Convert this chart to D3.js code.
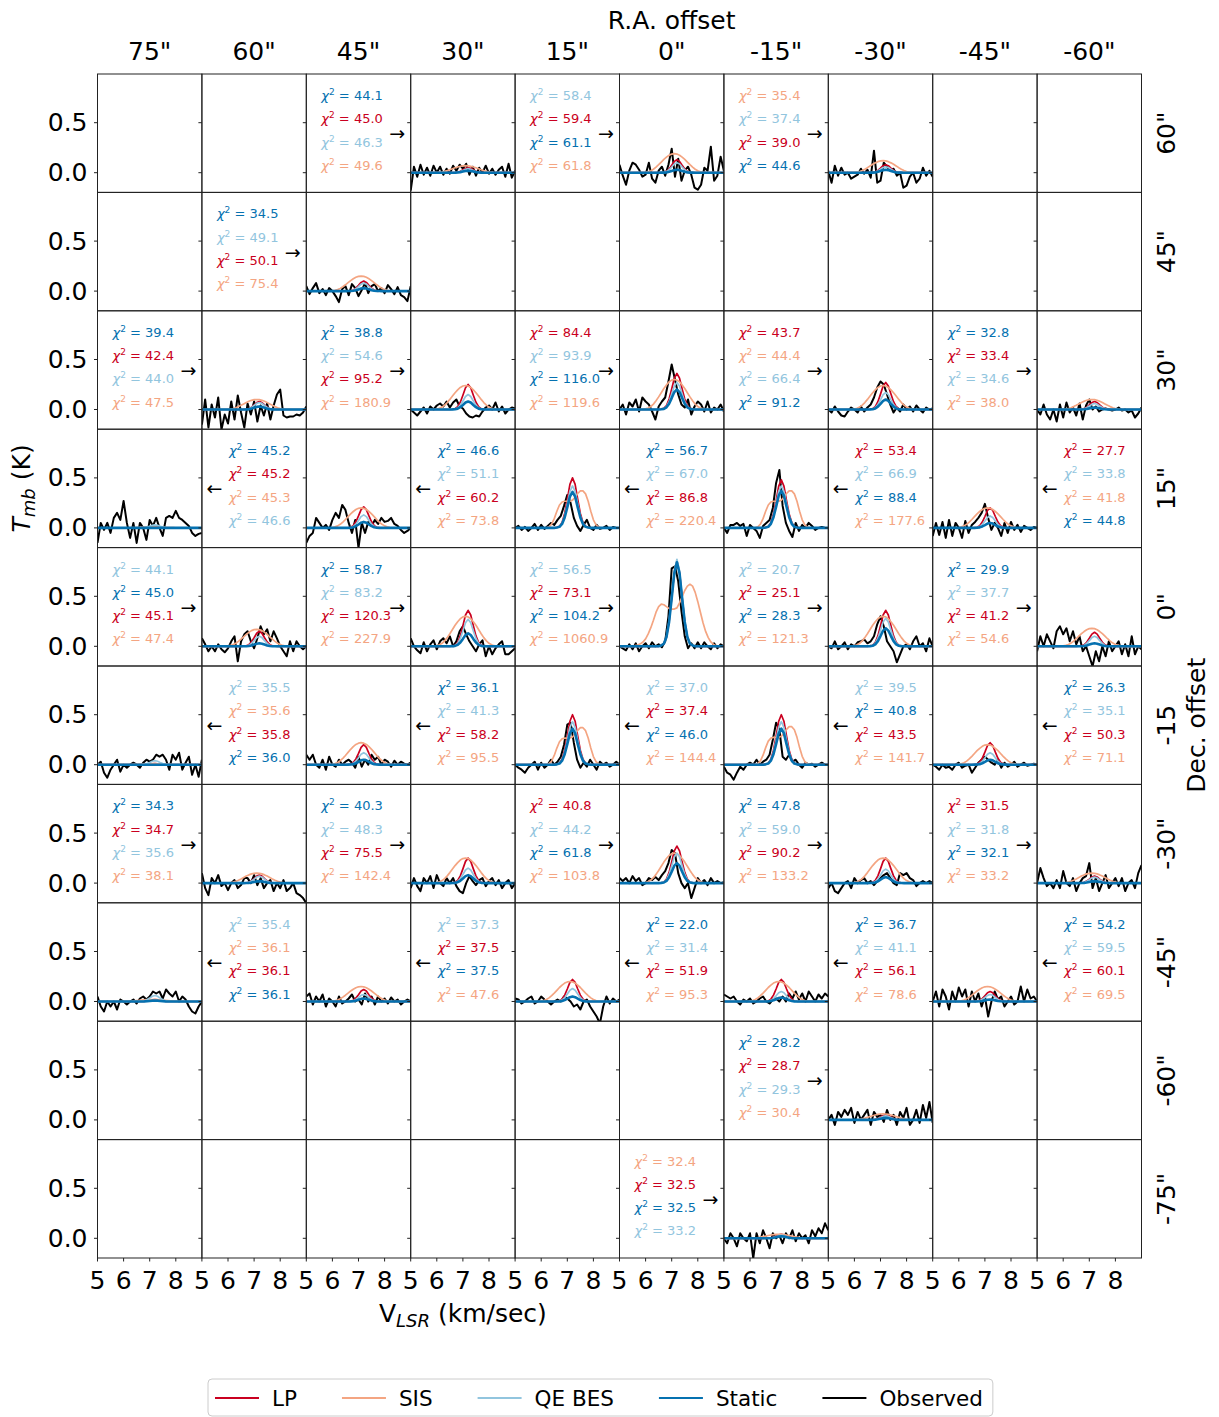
<!DOCTYPE html>
<html>
<head>
<meta charset="utf-8">
<script src="https://cdn.jsdelivr.net/npm/d3@7"></script>
<style>
body { margin: 0; background: #fff; }
svg { font-family: "DejaVu Sans", sans-serif; }
</style>
</head>
<body>
<svg id="chart" width="1219" height="1417"></svg>
<script>
// ---- data ----
var raLabels = ['75"', '60"', '45"', '30"', '15"', '0"', '-15"', '-30"', '-45"', '-60"'];
var decLabels = ['60"', '45"', '30"', '15"', '0"', '-15', '-30"', '-45"', '-60"', '-75"'];
var yTicks = [0.0, 0.5];
var xTicks = [5, 6, 7, 8];

var modelNames = ["LP", "SIS", "QE BES", "Static"];
var modelColors = {LP: "#ca0020", SIS: "#f4a582", "QE BES": "#92c5de", Static: "#0571b0"};

// channel velocities of the observed spectra (km/s)
var obsVel = [5.000, 5.125, 5.250, 5.375, 5.500, 5.625, 5.750, 5.875, 6.000, 6.125, 6.250,
    6.375, 6.500, 6.625, 6.750, 6.875, 7.000, 7.125, 7.250, 7.375, 7.500, 7.625, 7.750,
    7.875, 8.000, 8.125, 8.250, 8.375, 8.500, 8.625, 8.750, 8.875, 9.000];

// velocity grid of the model profiles (km/s)
var modelVel = [5.0, 5.1, 5.2, 5.3, 5.4, 5.5, 5.6, 5.7, 5.8, 5.9, 6.0, 6.1, 6.2, 6.3, 6.4, 6.5,
    6.6, 6.7, 6.8, 6.9, 7.0, 7.1, 7.2, 7.3, 7.4, 7.5, 7.6, 7.7, 7.8, 7.9, 8.0, 8.1, 8.2, 8.3,
    8.4, 8.5, 8.6, 8.7, 8.8, 8.9, 9.0];

// normalised profile shapes
var narrowProfile = [0, 0, 0, 0, 0, 0, 0, 0, 0, 0, 0, 0, 0, 0, 0, 0,
    0.01, 0.03, 0.11, 0.29, 0.57, 0.87, 1.0, 0.87, 0.57, 0.29, 0.11, 0.03, 0.01,
    0, 0, 0, 0, 0, 0, 0, 0, 0, 0, 0, 0];
var sisCenterProfile = [0, 0, 0, 0, 0, 0,
    0.01, 0.02, 0.04, 0.07, 0.12, 0.2, 0.3, 0.42, 0.55, 0.64, 0.68, 0.67, 0.64, 0.61, 0.6, 0.6,
    0.62, 0.7, 0.8, 0.9, 0.97, 1.0, 0.97, 0.87, 0.72, 0.55, 0.38, 0.24, 0.14, 0.07, 0.03, 0.01,
    0, 0, 0];
var sisInnerProfile = [0, 0, 0, 0, 0, 0, 0, 0, 0, 0, 0, 0, 0,
    0.03, 0.1, 0.25, 0.45, 0.62, 0.7, 0.72, 0.72, 0.72, 0.75, 0.83, 0.93, 1.0, 1.0, 0.92, 0.72,
    0.45, 0.22, 0.08, 0.02,
    0, 0, 0, 0, 0, 0, 0, 0];
var sisOuterProfile = [0, 0, 0, 0, 0, 0, 0, 0, 0, 0,
    0.02, 0.05, 0.1, 0.18, 0.29, 0.42, 0.56, 0.7, 0.82, 0.92, 0.98, 1.0, 0.98, 0.92, 0.82, 0.7,
    0.56, 0.42, 0.29, 0.18, 0.1, 0.05, 0.02,
    0, 0, 0, 0, 0, 0, 0, 0];
var sisProfiles = {center: sisCenterProfile, inner: sisInnerProfile, outer: sisOuterProfile};

// panels holding spectra (grid row = Dec index, col = R.A. index)
var specRow = [0, 0, 0, 1, 2, 2, 2, 2, 2, 3, 3, 3, 3, 3, 4, 4, 4, 4, 4, 5, 5, 5, 5, 5, 6, 6, 6, 6, 6, 7, 7, 7, 7, 7, 8, 9];
var specCol = [3, 5, 7, 2, 1, 3, 5, 7, 9, 0, 2, 4, 6, 8, 1, 3, 5, 7, 9, 0, 2, 4, 6, 8, 1, 3, 5, 7, 9, 0, 2, 4, 6, 8, 7, 6];

// model peak temperatures (K)
var peakLP = [0.05, 0.13, 0.08, 0.10, 0.08, 0.25, 0.36, 0.27, 0.08, 0.01, 0.21, 0.50, 0.48, 0.20, 0.15, 0.36, 0.85, 0.36,
    0.14, 0.01, 0.20, 0.50, 0.50, 0.22, 0.08, 0.25, 0.37, 0.25, 0.07, 0.02, 0.12, 0.22, 0.22, 0.10, 0.05, 0.04];
var peakSIS = [0.07, 0.19, 0.12, 0.15, 0.10, 0.24, 0.30, 0.24, 0.10, 0.01, 0.20, 0.37, 0.37, 0.20, 0.17, 0.30, 0.62, 0.30,
    0.18, 0.01, 0.22, 0.37, 0.38, 0.20, 0.10, 0.25, 0.30, 0.25, 0.10, 0.02, 0.15, 0.20, 0.20, 0.15, 0.06, 0.04];
var peakQE = [0.04, 0.10, 0.06, 0.08, 0.07, 0.15, 0.27, 0.17, 0.06, 0.03, 0.13, 0.42, 0.42, 0.12, 0.10, 0.27, 0.87, 0.28,
    0.10, 0.04, 0.12, 0.43, 0.43, 0.12, 0.07, 0.15, 0.30, 0.14, 0.06, 0.06, 0.07, 0.13, 0.10, 0.07, 0.04, 0.03];
var peakStatic = [0.02, 0.03, 0.03, 0.03, 0.03, 0.08, 0.20, 0.10, 0.02, 0.0, 0.06, 0.36, 0.37, 0.05, 0.03, 0.13, 0.84, 0.18,
    0.03, 0.0, 0.05, 0.36, 0.36, 0.05, 0.02, 0.08, 0.20, 0.06, 0.02, 0.01, 0.03, 0.05, 0.04, 0.02, 0.02, 0.02];
var sisShape = ["outer", "outer", "outer", "outer", "outer", "outer", "outer", "outer", "outer", "outer", "outer", "inner",
    "inner", "outer", "outer", "outer", "center", "outer", "outer", "outer", "outer", "inner", "inner", "outer", "outer",
    "outer", "outer", "outer", "outer", "outer", "outer", "outer", "outer", "outer", "outer", "outer"];

// observed spectra (K), one list per panel, same order as specRow/specCol
var observed = [
    [-0.18,0.06,-0.04,0.08,-0.02,0.05,-0.03,0.07,0,0.06,-0.02,0.04,-0.01,0.07,0.02,0.08,0.04,0.09,-0.02,0.06,-0.03,0.05,0,0.07,-0.01,0.04,-0.02,0.03,0.06,-0.04,0.09,-0.05,0.02],
    [0.08,-0.03,-0.12,0.02,0.10,0.08,0.03,-0.04,-0.02,0.10,-0.06,-0.10,0.02,0.06,-0.03,0.08,0.24,-0.04,0.14,-0.08,0.02,0.06,-0.02,-0.15,-0.17,-0.12,0.05,0.02,0.26,-0.08,-0.03,0.16,0.02],
    [0.02,-0.10,0.07,-0.03,0.05,-0.02,0,-0.06,-0.04,-0.02,0.04,-0.01,0.03,-0.05,0.22,-0.10,-0.08,0.10,0.06,0.02,0.04,-0.03,0,-0.15,-0.13,-0.04,0,-0.10,-0.06,0.05,-0.03,0.02,-0.04],
    [0.05,-0.03,0.03,0.08,-0.02,0.02,-0.04,0.03,0,-0.05,-0.11,0.02,0.05,-0.04,0.07,0.03,-0.05,0.01,0.08,-0.02,0.05,0.07,0,0.03,-0.02,0.06,0.02,-0.03,0.04,-0.04,-0.06,-0.10,0.05],
    [-0.15,0.10,-0.18,0.05,-0.08,0.12,-0.20,-0.05,-0.14,0.08,-0.10,0.14,-0.03,-0.18,0.06,-0.05,0.08,-0.12,0.04,-0.06,0.06,-0.10,0.04,0.15,0.20,-0.06,-0.08,-0.07,-0.07,-0.05,-0.06,-0.03,0.03],
    [0,-0.03,-0.06,-0.02,0.02,-0.04,0.03,0,0.04,0.06,0.03,0.08,0.02,0.07,0.10,0.03,0.01,-0.04,-0.07,-0.08,-0.06,-0.07,-0.02,0.02,0.04,0,0.07,-0.02,0.03,-0.04,0,0.02,0.01],
    [0,0.05,-0.05,0.07,0.03,0.10,-0.02,0.12,0.08,0.05,-0.02,-0.10,0.03,0.08,0.12,0.28,0.45,0.30,0.15,0.05,0.02,0.10,-0.05,0.03,0.08,0.05,-0.02,0.08,-0.03,0.02,0,0.05,-0.02],
    [0,-0.03,0.03,-0.02,-0.06,-0.07,-0.02,0.02,0,-0.03,0.03,-0.02,0.02,0.05,0.12,0.22,0.28,0.25,0.15,0.05,-0.03,0.02,-0.02,0.05,0,0.03,-0.02,0.04,0,-0.03,0.02,0,0.01],
    [0,-0.05,0.05,-0.05,-0.10,0,-0.12,0.05,-0.08,0.07,-0.03,0.02,-0.06,0.06,-0.10,0.04,0.10,0,0.03,-0.02,0,0.01,0,-0.01,0,0.02,-0.01,0,-0.03,-0.01,-0.08,-0.04,0.02],
    [-0.15,0.05,-0.02,0.05,-0.05,0.10,0.15,0.08,0.27,0.05,-0.10,0.05,-0.15,0.05,0,-0.12,0.08,0.02,0.10,0,-0.08,0.10,0.12,0.10,0.17,0.10,0.08,0.05,0.02,-0.05,-0.08,-0.06,-0.05],
    [-0.15,-0.08,-0.05,0.10,0.05,0,0.03,-0.02,0.08,0.15,0.10,0.23,0.18,0.05,-0.05,0.08,-0.20,0.05,-0.05,0.06,0.02,0.08,0.04,0.10,0.06,0.07,0.10,0.04,0.02,-0.02,-0.05,-0.03,0],
    [0,0.02,-0.02,0.01,-0.03,0,0.04,-0.02,0.03,-0.01,0.02,0.05,0.03,0.08,0.12,0.22,0.33,0.25,0.10,0.02,-0.03,0.03,0.08,0,-0.02,0.03,-0.01,0,0.02,-0.02,0.01,0,0],
    [0,-0.05,0.03,0.03,0.05,0.02,0.04,-0.08,0.03,0,-0.03,-0.10,0.02,0.05,0.08,0.20,0.45,0.58,0.22,0.05,-0.03,-0.09,0.05,-0.03,0.03,0,0.05,0.02,-0.02,0,0.01,0,0],
    [-0.08,0.05,-0.07,0.06,-0.10,0.08,-0.08,0.05,0,-0.10,0.07,-0.05,0.03,0.06,0.10,0.15,0.24,0.10,-0.02,0.05,0,-0.08,0.05,-0.05,0.06,-0.02,0.03,-0.04,0.02,0,-0.02,0.01,0],
    [0.08,0.02,-0.05,0,-0.05,0.02,-0.03,-0.06,-0.02,0.05,0.10,-0.15,0.05,0.12,0.15,0.05,-0.02,0.08,0.20,0.12,0.17,0.05,0.15,0.08,0,-0.05,-0.10,0.05,-0.05,0.05,0,-0.03,0],
    [0.08,0,-0.04,-0.07,0.04,-0.05,0.02,0.06,-0.03,0.05,0.08,0.03,0.10,0,0.05,0.15,0.20,0.12,0.05,0,-0.05,0.02,0.06,-0.10,0,-0.08,-0.02,0.02,0.05,-0.08,-0.08,-0.05,-0.02],
    [0,-0.02,-0.04,0.02,-0.03,0.03,-0.05,0,0.03,-0.02,0.04,0,0.02,-0.01,0.05,0.30,0.78,0.80,0.65,0.35,0.10,-0.02,0.03,-0.02,0.04,-0.02,0.04,0,-0.03,0.03,-0.02,0.02,0],
    [0,-0.02,0.05,-0.03,0,0.04,-0.03,0.02,0,0.04,0.05,0.07,0.03,0.05,0.10,0.22,0.30,0.20,0.05,0,-0.05,-0.16,-0.08,0,0.02,-0.03,0.05,0.10,0,0.03,-0.05,0.08,0],
    [-0.05,0.10,0,0.12,0.05,-0.02,0.15,0.20,0.12,0.18,0.05,0.15,0.02,0.10,-0.05,0,-0.10,-0.20,-0.05,-0.15,0,-0.10,0.05,-0.05,0,0.05,-0.08,0.02,-0.10,0.10,-0.08,0,-0.03],
    [0,0.03,-0.08,-0.13,-0.05,0,0.05,-0.07,0,-0.03,0,0.02,0,-0.03,0.02,0.05,0.03,0.05,0.10,0.08,0.10,0.05,-0.05,0.10,0.05,0.12,-0.05,0.02,0.08,-0.10,0,-0.12,0.05],
    [0.10,0.05,0.10,0,-0.03,0.05,-0.05,0.08,0,-0.02,0.05,0,0.03,0.05,0.02,-0.03,0.08,-0.02,0.05,0,0.10,0.05,0.08,0,0.05,0.03,-0.02,0.04,0,0.03,0.01,0,0.02],
    [0,-0.03,-0.05,-0.08,-0.03,0,0.03,-0.05,0.02,-0.03,0,0.05,0,0.03,0.08,0.20,0.40,0.42,0.22,0.05,-0.03,0.02,-0.02,0.05,0,-0.05,0.03,0,0.02,-0.02,0,0.03,0],
    [-0.02,-0.08,-0.10,-0.15,-0.08,-0.02,-0.05,0,0.02,0,0.05,0,0.03,0.05,0.10,0.25,0.42,0.35,0.08,0.05,0.10,0.03,0.05,0,-0.03,0.02,0,0.01,-0.02,0,0.02,0,0],
    [0,-0.02,-0.05,0,-0.03,-0.02,-0.05,0,0.02,-0.03,-0.01,0,-0.08,-0.03,0.02,0.05,0.08,0.05,0.02,0,0.05,-0.03,0.02,-0.02,0,0.03,-0.02,0,0.02,-0.01,0,0.01,0],
    [0.10,-0.05,-0.12,0.05,0,0.08,-0.03,0,-0.07,0,0.03,-0.05,-0.02,0.05,0.05,0,0.08,-0.02,0.05,-0.05,0,0.03,-0.08,0,-0.05,0.03,-0.08,-0.05,0,-0.10,-0.12,-0.15,-0.20],
    [-0.05,0.05,-0.03,-0.08,0.05,0,0.07,-0.05,0.08,0,-0.03,0.05,0,0.05,-0.03,-0.08,-0.10,0,0.07,0.02,-0.02,0.03,0.05,-0.03,0.02,0.05,-0.02,0.03,-0.05,0,0.03,-0.05,0],
    [0.05,0.02,0.05,0,0.07,0.02,0.05,-0.02,0,0.05,0.03,0.06,0.03,0.08,0.12,0.20,0.33,0.30,0.10,0,-0.05,0,-0.15,-0.05,0.05,0,0.03,-0.02,0.05,0,0.02,0,0.01],
    [-0.05,0,-0.08,-0.10,-0.05,0,0.02,-0.05,0.05,0,0.03,0.05,0,0.02,-0.02,0.02,0.05,0.08,0.10,0.05,0,-0.02,0.10,0.08,0.10,0.05,0.03,-0.03,0,0.02,0,0.02,0],
    [0,0.15,0.05,-0.03,0,-0.05,0.03,-0.05,0.12,0,-0.03,0.05,-0.08,0,0.05,0.07,0.20,-0.05,0.05,-0.08,0,0.08,-0.05,0,0.05,-0.03,0.05,-0.08,0,0.03,-0.05,0.10,0.18],
    [0.05,-0.05,-0.10,0,-0.05,0,-0.08,0.02,0,-0.03,0,0.02,-0.02,0.03,0.05,0.02,0.05,0.10,0.08,0.10,0.03,0.12,0.08,0.05,0.10,0,0.05,0.02,-0.05,-0.10,-0.12,-0.05,0],
    [0.05,0.08,-0.03,0.05,0,0.07,-0.05,0.03,0,-0.05,0.05,-0.02,0,0.03,0.07,0,0.02,-0.03,0.08,0,0.05,-0.03,0.05,0,0.03,-0.02,0.04,0,0.02,-0.03,0,0.02,0],
    [0.03,0.02,-0.02,0,0.03,0.05,-0.02,0,0.05,0.02,0,-0.03,0,0.02,0,0.05,0.03,0,-0.05,-0.03,-0.08,0,0.02,-0.05,-0.10,-0.15,-0.22,-0.05,0.05,-0.02,0.03,0,0.02],
    [0.07,0.05,0.03,0.05,0,-0.03,0.02,0,0.03,-0.02,0,0.03,0.05,0,-0.02,0.02,0.03,0,0.05,0,0.08,0.03,0.10,0.02,0.08,0,0.10,0.05,0,0.07,0.03,0.08,0.05],
    [0,0.10,-0.05,0.12,0.05,-0.08,0.10,0,0.14,0.05,0.12,-0.05,0.10,0,0.08,-0.05,0.05,-0.15,0,0.10,0.02,0.05,-0.05,0,0.05,-0.03,0,0.15,0,0.12,0.03,0.05,0],
    [0,0.05,-0.05,0.08,0.03,0.10,0.05,0.12,-0.03,0.08,0,0.05,0.10,-0.05,0.08,0.03,0.05,-0.02,0.10,0,0.05,-0.05,0.08,0.02,0.12,-0.05,0,0.10,-0.03,0.15,0.02,0.18,-0.03],
    [0,-0.05,0.05,0,-0.08,0.05,0,-0.03,0.05,-0.20,0.05,-0.05,0.08,0,-0.10,0.05,0,0.03,-0.05,0.05,0,0.08,-0.03,0.05,0,0.03,-0.05,0.08,0.02,0.10,0.05,0.15,0.08]
];

// chi-square labels: panel, arrow direction, models (top to bottom) and values
var chiRow = [0, 0, 0, 1, 2, 2, 2, 2, 2, 3, 3, 3, 3, 3, 4, 4, 4, 4, 4, 5, 5, 5, 5, 5, 6, 6, 6, 6, 6, 7, 7, 7, 7, 7, 8, 9];
var chiCol = [2, 4, 6, 1, 0, 2, 4, 6, 8, 1, 3, 5, 7, 9, 0, 2, 4, 6, 8, 1, 3, 5, 7, 9, 0, 2, 4, 6, 8, 1, 3, 5, 7, 9, 6, 5];
var chiArrow = ["r", "r", "r", "r", "r", "r", "r", "r", "r", "l", "l", "l", "l", "l", "r", "r", "r", "r", "r",
    "l", "l", "l", "l", "l", "r", "r", "r", "r", "r", "l", "l", "l", "l", "l", "r", "r"];
var chiModels = [
    ["Static", "LP", "QE BES", "SIS"], ["QE BES", "LP", "Static", "SIS"], ["SIS", "QE BES", "LP", "Static"],
    ["Static", "QE BES", "LP", "SIS"],
    ["Static", "LP", "QE BES", "SIS"], ["Static", "QE BES", "LP", "SIS"], ["LP", "QE BES", "Static", "SIS"],
    ["LP", "SIS", "QE BES", "Static"], ["Static", "LP", "QE BES", "SIS"],
    ["Static", "LP", "SIS", "QE BES"], ["Static", "QE BES", "LP", "SIS"], ["Static", "QE BES", "LP", "SIS"],
    ["LP", "QE BES", "Static", "SIS"], ["LP", "QE BES", "SIS", "Static"],
    ["QE BES", "Static", "LP", "SIS"], ["Static", "QE BES", "LP", "SIS"], ["QE BES", "LP", "Static", "SIS"],
    ["QE BES", "LP", "Static", "SIS"], ["Static", "QE BES", "LP", "SIS"],
    ["QE BES", "SIS", "LP", "Static"], ["Static", "QE BES", "LP", "SIS"], ["QE BES", "LP", "Static", "SIS"],
    ["QE BES", "Static", "LP", "SIS"], ["Static", "QE BES", "LP", "SIS"],
    ["Static", "LP", "QE BES", "SIS"], ["Static", "QE BES", "LP", "SIS"], ["LP", "QE BES", "Static", "SIS"],
    ["Static", "QE BES", "LP", "SIS"], ["LP", "QE BES", "Static", "SIS"],
    ["QE BES", "SIS", "LP", "Static"], ["QE BES", "LP", "Static", "SIS"], ["Static", "QE BES", "LP", "SIS"],
    ["Static", "QE BES", "LP", "SIS"], ["Static", "QE BES", "LP", "SIS"],
    ["Static", "LP", "QE BES", "SIS"], ["SIS", "LP", "Static", "QE BES"]
];
var chiValues = [
    ["44.1", "45.0", "46.3", "49.6"], ["58.4", "59.4", "61.1", "61.8"], ["35.4", "37.4", "39.0", "44.6"],
    ["34.5", "49.1", "50.1", "75.4"],
    ["39.4", "42.4", "44.0", "47.5"], ["38.8", "54.6", "95.2", "180.9"], ["84.4", "93.9", "116.0", "119.6"],
    ["43.7", "44.4", "66.4", "91.2"], ["32.8", "33.4", "34.6", "38.0"],
    ["45.2", "45.2", "45.3", "46.6"], ["46.6", "51.1", "60.2", "73.8"], ["56.7", "67.0", "86.8", "220.4"],
    ["53.4", "66.9", "88.4", "177.6"], ["27.7", "33.8", "41.8", "44.8"],
    ["44.1", "45.0", "45.1", "47.4"], ["58.7", "83.2", "120.3", "227.9"], ["56.5", "73.1", "104.2", "1060.9"],
    ["20.7", "25.1", "28.3", "121.3"], ["29.9", "37.7", "41.2", "54.6"],
    ["35.5", "35.6", "35.8", "36.0"], ["36.1", "41.3", "58.2", "95.5"], ["37.0", "37.4", "46.0", "144.4"],
    ["39.5", "40.8", "43.5", "141.7"], ["26.3", "35.1", "50.3", "71.1"],
    ["34.3", "34.7", "35.6", "38.1"], ["40.3", "48.3", "75.5", "142.4"], ["40.8", "44.2", "61.8", "103.8"],
    ["47.8", "59.0", "90.2", "133.2"], ["31.5", "31.8", "32.1", "33.2"],
    ["35.4", "36.1", "36.1", "36.1"], ["37.3", "37.5", "37.5", "47.6"], ["22.0", "31.4", "51.9", "95.3"],
    ["36.7", "41.1", "56.1", "78.6"], ["54.2", "59.5", "60.1", "69.5"],
    ["28.2", "28.7", "29.3", "30.4"], ["32.4", "32.5", "32.5", "33.2"]
];

// ---- layout ----
var svg = d3.select("#chart");
var plotLeft = 97.5, plotTop = 74, cellW = 104.4, cellH = 118.4,
    nRows = decLabels.length, nCols = raLabels.length;
var bigFont = 25;

var x = d3.scaleLinear().domain([5, 9]).range([0, cellW]);
var y = d3.scaleLinear().domain([-0.197, 0.987]).range([cellH, 0]);

var line = d3.line()
    .x(function (d) { return x(d[0]); })
    .y(function (d) { return y(d[1]); });

svg.append("defs").append("clipPath")
    .attr("id", "cellClip")
    .append("rect")
    .attr("width", cellW)
    .attr("height", cellH);

function cellG(r, c) {
    return "translate(" + (plotLeft + c * cellW) + "," + (plotTop + r * cellH) + ")";
}

// spectra
specRow.forEach(function (r, i) {
    var g = svg.append("g")
        .attr("transform", cellG(r, specCol[i]))
        .append("g")
        .attr("clip-path", "url(#cellClip)");

    g.append("path")
        .datum(d3.zip(obsVel, observed[i]))
        .attr("d", line)
        .attr("fill", "none")
        .attr("stroke", "#000")
        .attr("stroke-width", 2)
        .attr("stroke-linejoin", "round");

    var models = [
        {name: "LP", prof: narrowProfile, peak: peakLP[i], w: 1.7},
        {name: "SIS", prof: sisProfiles[sisShape[i]], peak: peakSIS[i], w: 1.7},
        {name: "QE BES", prof: narrowProfile, peak: peakQE[i], w: 1.7},
        {name: "Static", prof: narrowProfile, peak: peakStatic[i], w: 2.6}
    ];
    models.forEach(function (m) {
        g.append("path")
            .datum(d3.zip(modelVel, m.prof.map(function (p) { return p * m.peak; })))
            .attr("d", line)
            .attr("fill", "none")
            .attr("stroke", modelColors[m.name])
            .attr("stroke-width", m.w)
            .attr("stroke-linejoin", "round");
    });
});

// chi-square text blocks
chiRow.forEach(function (r, i) {
    var g = svg.append("g").attr("transform", cellG(r, chiCol[i]));
    var tx = chiArrow[i] == "r" ? 15 : 27;
    chiModels[i].forEach(function (m, k) {
        var t = g.append("text")
            .attr("x", tx)
            .attr("y", 26 + k * 23.3)
            .attr("fill", modelColors[m])
            .style("font-size", "13px");
        t.append("tspan").attr("font-style", "italic").text("\u03c7");
        t.append("tspan").attr("dy", -5).style("font-size", "9px").text("2");
        t.append("tspan").attr("dy", 5).text(" = " + chiValues[i][k]);
    });
    g.append("text")
        .attr("x", chiArrow[i] == "r" ? cellW - 13.5 : 12.5)
        .attr("y", cellH / 2)
        .attr("text-anchor", "middle")
        .attr("dominant-baseline", "central")
        .style("font-size", "19px")
        .text(chiArrow[i] == "r" ? "\u2192" : "\u2190");
});

// frames and ticks
for (var r = 0; r < nRows; r++) {
    for (var c = 0; c < nCols; c++) {
        var g = svg.append("g").attr("transform", cellG(r, c));
        g.append("rect")
            .attr("width", cellW)
            .attr("height", cellH)
            .attr("fill", "none")
            .attr("stroke", "#222")
            .attr("stroke-width", 1);
        g.selectAll(".ytick")
            .data(yTicks)
            .enter().append("line")
            .attr("x1", -3.5).attr("x2", 0)
            .attr("y1", function (d) { return y(d); })
            .attr("y2", function (d) { return y(d); })
            .attr("stroke", "#222");
        if (c == 0) {
            g.selectAll(".ylab")
                .data(yTicks)
                .enter().append("text")
                .attr("x", -10)
                .attr("y", function (d) { return y(d); })
                .attr("text-anchor", "end")
                .attr("dominant-baseline", "central")
                .style("font-size", bigFont + "px")
                .text(function (d) { return d.toFixed(1); });
        }
        if (r == nRows - 1) {
            g.selectAll(".xtick")
                .data(xTicks)
                .enter().append("line")
                .attr("x1", function (d) { return x(d); })
                .attr("x2", function (d) { return x(d); })
                .attr("y1", cellH).attr("y2", cellH + 3.5)
                .attr("stroke", "#222");
            g.selectAll(".xlab")
                .data(xTicks)
                .enter().append("text")
                .attr("x", function (d) { return x(d); })
                .attr("y", cellH + 31)
                .attr("text-anchor", "middle")
                .style("font-size", bigFont + "px")
                .text(function (d) { return d; });
        }
    }
}

// column and row headers
svg.selectAll(".colLab")
    .data(raLabels)
    .enter().append("text")
    .attr("x", function (d, i) { return plotLeft + (i + 0.5) * cellW; })
    .attr("y", 60)
    .attr("text-anchor", "middle")
    .style("font-size", bigFont + "px")
    .text(function (d) { return d; });

svg.append("text")
    .attr("x", plotLeft + 5.5 * cellW)
    .attr("y", 29)
    .attr("text-anchor", "middle")
    .style("font-size", bigFont + "px")
    .text("R.A. offset");

svg.selectAll(".rowLab")
    .data(decLabels)
    .enter().append("text")
    .attr("transform", function (d, i) {
        return "translate(1166," + (plotTop + (i + 0.5) * cellH) + ") rotate(-90)";
    })
    .attr("text-anchor", "middle")
    .attr("dominant-baseline", "central")
    .style("font-size", bigFont + "px")
    .text(function (d) { return d; });

svg.append("text")
    .attr("transform", "translate(1196," + (plotTop + 5.5 * cellH) + ") rotate(-90)")
    .attr("text-anchor", "middle")
    .attr("dominant-baseline", "central")
    .style("font-size", bigFont + "px")
    .text("Dec. offset");

// axis titles
var yTitle = svg.append("text")
    .attr("transform", "translate(30," + (plotTop + 3.5 * cellH) + ") rotate(-90)")
    .attr("text-anchor", "middle")
    .style("font-size", bigFont + "px");
yTitle.append("tspan").attr("font-style", "italic").text("T");
yTitle.append("tspan").attr("font-style", "italic").attr("dy", 5).style("font-size", "18px").text("mb");
yTitle.append("tspan").attr("dy", -5).text(" (K)");

var xTitle = svg.append("text")
    .attr("x", plotLeft + 3.5 * cellW)
    .attr("y", 1322)
    .attr("text-anchor", "middle")
    .style("font-size", bigFont + "px");
xTitle.append("tspan").text("V");
xTitle.append("tspan").attr("font-style", "italic").attr("dy", 5).style("font-size", "18px").text("LSR");
xTitle.append("tspan").attr("dy", -5).text(" (km/sec)");

// legend
var legendItems = modelNames.concat(["Observed"]);
var legendColors = legendItems.map(function (d) { return modelColors[d] || "#000"; });
var legend = svg.append("g");
var legBox = legend.append("rect")
    .attr("x", 208).attr("y", 1379)
    .attr("height", 37)
    .attr("rx", 4)
    .attr("fill", "#fff")
    .attr("stroke", "#ccc");
var lx = 215, ly = 1398;
legendItems.forEach(function (d, i) {
    legend.append("line")
        .attr("x1", lx).attr("x2", lx + 44)
        .attr("y1", ly).attr("y2", ly)
        .attr("stroke", legendColors[i])
        .attr("stroke-width", 2);
    var t = legend.append("text")
        .attr("x", lx + 57)
        .attr("y", ly)
        .attr("dominant-baseline", "central")
        .style("font-size", "21.5px")
        .text(d);
    lx = lx + 57 + t.node().getComputedTextLength() + 45;
});
legBox.attr("width", lx - 45 + 10 - 208);
</script>
</body>
</html>
